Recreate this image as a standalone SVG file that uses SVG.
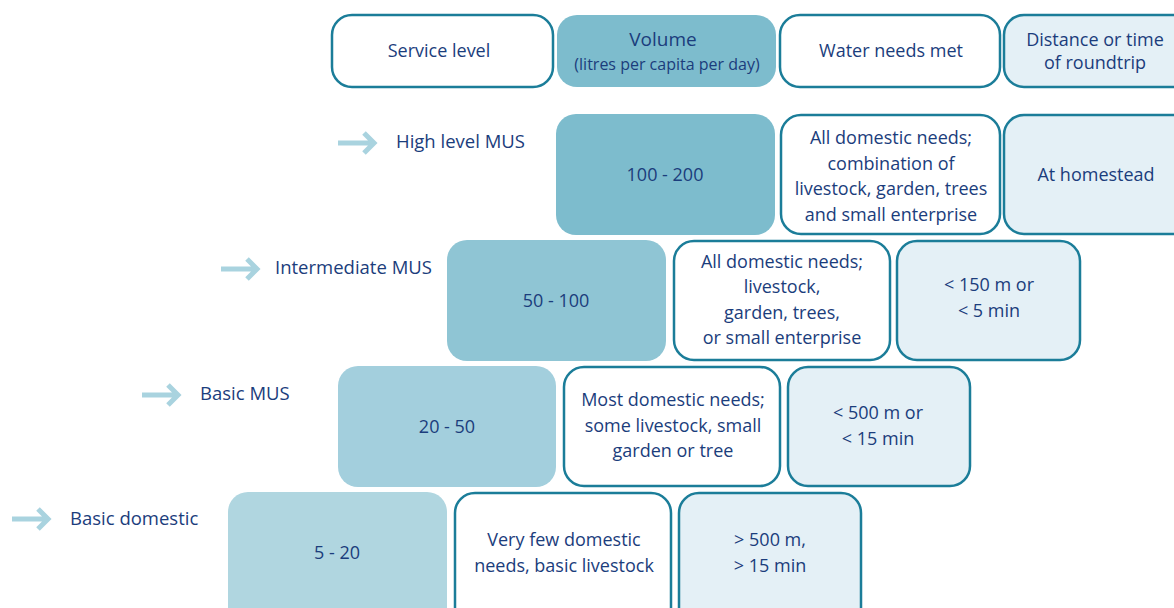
<svg xmlns="http://www.w3.org/2000/svg" width="1174" height="608" viewBox="0 0 1174 608">
<style>
text{font-family:"Open Sans","Liberation Sans",sans-serif;font-size:18px;fill:#1b3d7c;text-anchor:middle}
.lbl{text-anchor:start;font-size:18.5px}
.sm{font-size:16px}
.big{font-size:19px}
.w{fill:#ffffff;stroke:#1b7d99;stroke-width:2.5}
.d{fill:#e4f0f6;stroke:#1b7d99;stroke-width:2.5}
.arr{fill:none;stroke:#a9d3df;stroke-width:5}
</style>
<rect width="1174" height="608" fill="#ffffff"/>
<g id="header">
<g id="h-service"><rect class="w" x="332" y="15" width="221" height="72" rx="20"/><text x="439" y="57">Service level</text></g>
<g id="h-volume"><rect x="557" y="15" width="219" height="72" rx="20" fill="#7dbccd"/><text class="big" x="663" y="46">Volume</text><text class="sm" x="667" y="70">(litres per capita per day)</text></g>
<g id="h-needs"><rect class="w" x="780" y="15" width="220" height="72" rx="20"/><text x="891" y="57">Water needs met</text></g>
<g id="h-distance"><rect class="d" x="1004" y="15" width="190" height="72" rx="20"/><text x="1095" y="46">Distance or time</text><text x="1095" y="69">of roundtrip</text></g>
</g>
<g id="connectors">
<path class="arr" d="M338 143H374M364 133L374 143L364 153"/>
<path class="arr" d="M221 269H257M247 259L257 269L247 279"/>
<path class="arr" d="M142 395H178M168 385L178 395L168 405"/>
<path class="arr" d="M12 519H48M38 509L48 519L38 529"/>
</g>
<g id="row-high">
<text class="lbl" x="396" y="148">High level MUS</text>
<rect x="556" y="114" width="219" height="121" rx="20" fill="#7dbccd"/><text x="665" y="181">100 - 200</text>
<rect class="w" x="781" y="115" width="219" height="119" rx="20"/>
<text x="891" y="144">All domestic needs;</text><text x="891" y="170">combination of</text><text x="891" y="195">livestock, garden, trees</text><text x="891" y="221">and small enterprise</text>
<rect class="d" x="1004" y="115" width="190" height="119" rx="20"/><text x="1096" y="181">At homestead</text>
</g>
<g id="row-intermediate">
<text class="lbl" x="275" y="274">Intermediate MUS</text>
<rect x="447" y="240" width="219" height="121" rx="20" fill="#8fc5d4"/><text x="556" y="307">50 - 100</text>
<rect class="w" x="674" y="241" width="216" height="119" rx="20"/>
<text x="782" y="268">All domestic needs;</text><text x="782" y="293">livestock,</text><text x="782" y="319">garden, trees,</text><text x="782" y="344">or small enterprise</text>
<rect class="d" x="897" y="241" width="183" height="119" rx="20"/><text x="989" y="291">&lt; 150 m or</text><text x="989" y="317">&lt; 5 min</text>
</g>
<g id="row-basic-mus">
<text class="lbl" x="200" y="400">Basic MUS</text>
<rect x="338" y="366" width="218" height="121" rx="20" fill="#a3cfdd"/><text x="447" y="433">20 - 50</text>
<rect class="w" x="564" y="367" width="216" height="119" rx="20"/>
<text x="673" y="406">Most domestic needs;</text><text x="673" y="432">some livestock, small</text><text x="673" y="457">garden or tree</text>
<rect class="d" x="788" y="367" width="182" height="119" rx="20"/><text x="878" y="419">&lt; 500 m or</text><text x="878" y="445">&lt; 15 min</text>
</g>
<g id="row-basic-domestic">
<text class="lbl" x="70" y="525">Basic domestic</text>
<rect x="228" y="492" width="219" height="140" rx="20" fill="#b0d6e0"/><text x="337" y="559">5 - 20</text>
<rect class="w" x="455" y="493" width="216" height="140" rx="20"/>
<text x="564" y="546">Very few domestic</text><text x="564" y="572">needs, basic livestock</text>
<rect class="d" x="679" y="493" width="182" height="140" rx="20"/><text x="770" y="546">&gt; 500 m,</text><text x="770" y="572">&gt; 15 min</text>
</g>
</svg>
